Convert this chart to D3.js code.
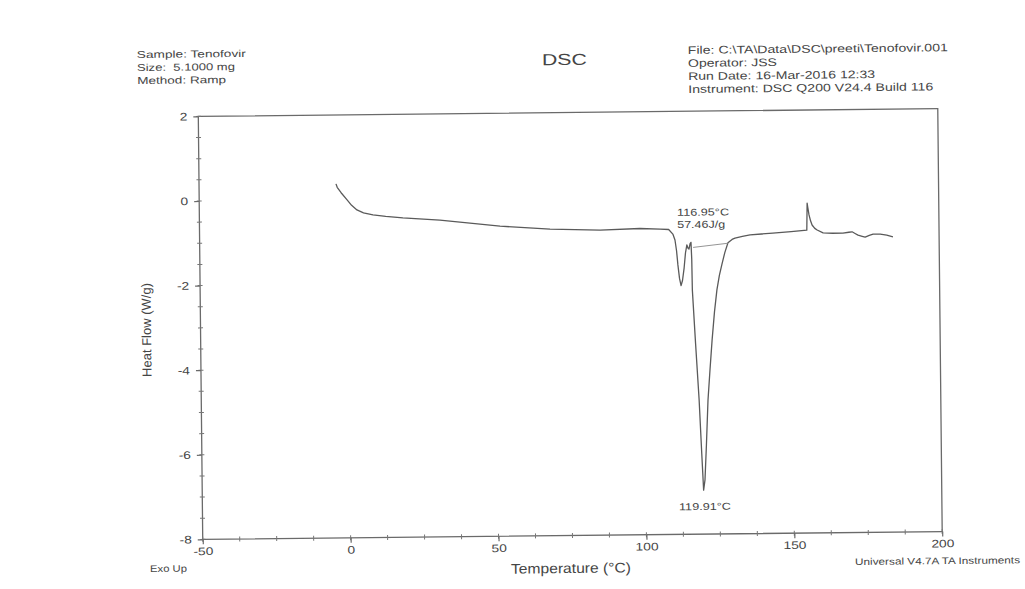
<!DOCTYPE html>
<html><head><meta charset="utf-8">
<script src="https://cdn.jsdelivr.net/npm/d3@7"></script>
<style>
html,body{margin:0;padding:0;background:#fff;}
svg{display:block;background:#fff;}
text{font-family:"Liberation Sans",Arial,sans-serif;fill:#454545;}
</style></head><body>
<svg id="chart" width="1025" height="589"></svg>
<script>
// ---- data ----
const temperature = [-3.7,-3.3,-2.0,0.0,1.5,3.3,5.5,8.7,13,18.8,31.3,51.6,68.5,85.4,98.9,105.7,108.6,110.0,110.7,111.2,111.6,112.1,112.6,113.1,113.7,114.2,114.7,115.1,115.4,115.8,116.1,116.3,116.4,117.3,118.3,119.0,119.5,120.0,120.6,121.3,122.1,122.9,123.8,124.7,125.6,126.5,127.5,128.6,130.0,131.0,133.5,136.1,140,143.8,150,155.3,155.5,155.7,156.1,156.6,157.1,158.0,158.8,160.8,164,167.5,169.5,170.6,171.6,172.6,174,175.0,176.4,177.7,180.1,182.3,184.4];
const heatFlow = [0.37,0.29,0.16,-0.01,-0.14,-0.25,-0.32,-0.37,-0.41,-0.45,-0.51,-0.67,-0.75,-0.79,-0.76,-0.78,-0.79,-0.90,-1.04,-1.30,-1.63,-1.95,-2.12,-2.0,-1.70,-1.35,-1.16,-1.24,-1.26,-1.13,-1.10,-1.50,-2.23,-3.5,-4.83,-6.1,-6.96,-6.72,-5.9,-4.83,-4.1,-3.41,-2.75,-2.23,-1.88,-1.62,-1.35,-1.12,-1.04,-1.01,-0.97,-0.94,-0.92,-0.90,-0.87,-0.84,-0.20,-0.30,-0.48,-0.62,-0.72,-0.80,-0.84,-0.91,-0.92,-0.92,-0.90,-0.89,-0.93,-0.97,-1.0,-1.02,-0.98,-0.95,-0.95,-0.98,-1.02];
const baselineTemp = [116.8, 128.6];
const baselineHeat = [-1.22, -1.13];
const xTickValues = [-50, 0, 50, 100, 150, 200];
const yTickValues = [-8, -6, -4, -2, 0, 2];
const annotationText = ["116.95°C", "57.46J/g", "119.91°C"];
const annotationTemp = [111.5, 111.5, 119.9];
const annotationHeat = [-0.47, -0.76, -7.43];
const headerLeft = ["Sample: Tenofovir", "Size:  5.1000 mg", "Method: Ramp"];
const headerRight = ["File: C:\\TA\\Data\\DSC\\preeti\\Tenofovir.001", "Operator: JSS", "Run Date: 16-Mar-2016 12:33", "Instrument: DSC Q200 V24.4 Build 116"];

// ---- layout ----
const L = 200.5, R = 940, T = 112.5, B = 535.5;
const ink = "#5a5a5a";
const svg = d3.select("#chart");
const g = svg.append("g").attr("transform", "rotate(-0.6,570,324)");

const x = d3.scaleLinear().domain([-50, 200]).range([L, R]);
const y = d3.scaleLinear().domain([-8, 2]).range([B, T]);

function fit(sel, w){ sel.attr("textLength", w).attr("lengthAdjust", "spacingAndGlyphs"); return sel; }
function stretch(sel, f){
  sel.each(function(){ const len = this.getComputedTextLength(); d3.select(this).attr("textLength", len*f).attr("lengthAdjust","spacingAndGlyphs"); });
}

// frame
g.append("rect").attr("x", L).attr("y", T).attr("width", R-L).attr("height", B-T)
  .attr("fill", "none").attr("stroke", "#6a6a6a").attr("stroke-width", 1.3);

// minor ticks
const xMinor = d3.range(-50, 200.01, 12.5);
const yMinor = d3.range(-8, 2.01, 0.5);
g.append("g").selectAll("line").data(xMinor).join("line")
  .attr("x1", d => x(d)).attr("x2", d => x(d)).attr("y1", B-2.5).attr("y2", B+2.5)
  .attr("stroke", "#777").attr("stroke-width", 1);
g.append("g").selectAll("line").data(yMinor).join("line")
  .attr("y1", d => y(d)).attr("y2", d => y(d)).attr("x1", L-2.5).attr("x2", L+2.5)
  .attr("stroke", "#777").attr("stroke-width", 1);

// major axes
const fmt = d => String(d);
const xAxis = g.append("g").attr("transform", `translate(0,${B})`)
  .call(d3.axisBottom(x).tickValues(xTickValues).tickSizeInner(5).tickSizeOuter(0).tickPadding(3).tickFormat(fmt));
const yAxis = g.append("g").attr("transform", `translate(${L},0)`)
  .call(d3.axisLeft(y).tickValues(yTickValues).tickSizeInner(5).tickSizeOuter(0).tickPadding(6).tickFormat(fmt));
[xAxis, yAxis].forEach(a => {
  a.select(".domain").remove();
  a.selectAll(".tick line").attr("stroke", "#6a6a6a").attr("stroke-width", 1.2);
  a.selectAll(".tick text").attr("font-size", 11).attr("fill", "#4a4a4a")
    .attr("font-family", '"Liberation Sans",Arial,sans-serif');
});
stretch(xAxis.selectAll(".tick text"), 1.25);
stretch(yAxis.selectAll(".tick text"), 1.25);

// curve
const pts = temperature.map((t, i) => [t, heatFlow[i]]);
const line = d3.line().x(d => x(d[0])).y(d => y(d[1]));
g.append("path").datum(pts).attr("d", line)
  .attr("fill", "none").attr("stroke", ink).attr("stroke-width", 1.3).attr("stroke-linejoin", "round");

// integration baseline
g.append("path").datum(baselineTemp.map((t, i) => [t, baselineHeat[i]])).attr("d", line)
  .attr("fill", "none").attr("stroke", "#8a8a8a").attr("stroke-width", 0.9);

// annotations
const annWidths = [52, 48, 52];
annotationText.forEach((s, i) => {
  const t = g.append("text").attr("x", x(annotationTemp[i])).attr("y", y(annotationHeat[i]))
    .attr("font-size", 10).attr("text-anchor", i === 2 ? "middle" : "start").text(s);
  fit(t, annWidths[i]);
});

// header
const hlW = [109, 98, 89];
headerLeft.forEach((s, i) => {
  fit(g.append("text").attr("x", 139.7).attr("y", 53.5 + 13*i).attr("font-size", 10)
    .style("white-space", "pre").text(s), hlW[i]);
});
const hrW = [260, 89, 187, 245];
headerRight.forEach((s, i) => {
  fit(g.append("text").attr("x", 690.7).attr("y", 55.2 + 13*i).attr("font-size", 11).text(s), hrW[i]);
});
fit(g.append("text").attr("x", 567.2).attr("y", 65).attr("text-anchor", "middle")
  .attr("font-size", 16).text("DSC"), 45);

// axis titles
g.append("text").attr("transform", "translate(151,325.6) rotate(-90)")
  .attr("text-anchor", "middle").attr("font-size", 13).text("Heat Flow (W/g)");
fit(g.append("text").attr("x", 568.4).attr("y", 573).attr("text-anchor", "middle")
  .attr("font-size", 14).text("Temperature (°C)"), 120);
fit(g.append("text").attr("x", 147.4).attr("y", 567.6).attr("font-size", 9.5).text("Exo Up"), 37);
fit(g.append("text").attr("x", 852.5).attr("y", 568).attr("font-size", 9.5)
  .text("Universal V4.7A TA Instruments"), 165);
</script>
</body></html>
